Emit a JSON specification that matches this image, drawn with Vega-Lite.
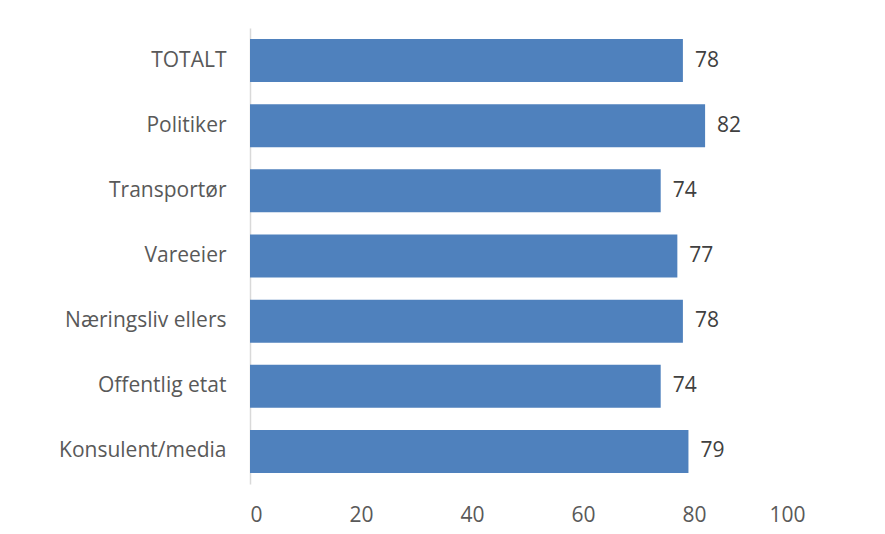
{
  "$schema": "https://vega.github.io/schema/vega-lite/v6.json",
  "width": 555,
  "height": 456,
  "autosize": "none",
  "padding": {"left": 250, "top": 28, "right": 80, "bottom": 50},
  "background": "white",
  "config": {"view": {"stroke": null}, "font": "Open Sans"},
  "data": {
    "values": [
      {"kategori": "TOTALT", "verdi": 78},
      {"kategori": "Politiker", "verdi": 82},
      {"kategori": "Transportør", "verdi": 74},
      {"kategori": "Vareeier", "verdi": 77},
      {"kategori": "Næringsliv ellers", "verdi": 78},
      {"kategori": "Offentlig etat", "verdi": 74},
      {"kategori": "Konsulent/media", "verdi": 79}
    ]
  },
  "encoding": {
    "y": {
      "field": "kategori", "type": "nominal", "sort": null,
      "scale": {"paddingInner": 0.34, "paddingOuter": 0.17},
      "axis": {"title": null, "ticks": false, "domainColor": "#d9d9d9", "domainWidth": 1.5,
               "labelFontSize": 21, "labelColor": "#595959", "labelPadding": 24}
    },
    "x": {
      "field": "verdi", "type": "quantitative",
      "scale": {"domain": [0, 100], "nice": false},
      "axis": {"title": null, "values": [0, 20, 40, 60, 80, 100], "grid": false, "domain": false,
               "ticks": false, "labelFontSize": 21, "labelColor": "#595959", "labelPadding": 20}
    }
  },
  "layer": [
    {"mark": {"type": "bar", "color": "#4f81bd"}},
    {"mark": {"type": "text", "align": "left", "dx": 12, "fontSize": 21, "color": "#404040"},
     "encoding": {"text": {"field": "verdi", "type": "quantitative"}}}
  ]
}
